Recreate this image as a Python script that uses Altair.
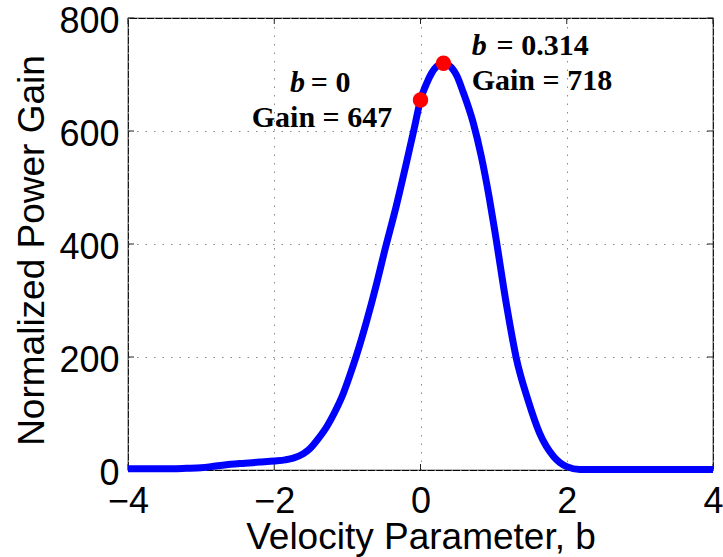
import altair as alt
import pandas as pd

# Curve values
b_vals = [-4.0, -3.5, -3.2, -3.0, -2.8, -2.6, -2.4, -2.2, -2.0, -1.85, -1.74, -1.6,
          -1.51, -1.4, -1.28, -1.17, -1.06, -0.97, -0.88, -0.74, -0.60, -0.49, -0.33,
          -0.19, -0.08, 0.0, 0.08, 0.15, 0.22, 0.314, 0.38, 0.45, 0.5, 0.58, 0.72, 0.83,
          0.94, 1.02, 1.18, 1.31, 1.47, 1.63, 1.82, 2.0, 2.18, 2.5, 3.0, 3.5, 4.0]
gain_vals = [2, 2, 3, 4, 7, 10, 12, 14, 16, 18, 21, 29,
             38, 55, 77, 103, 134, 166, 201, 262, 330, 388, 468,
             545, 608, 655, 683, 702, 714, 720, 717, 708, 697, 670, 615, 556,
             482, 420, 289, 198, 124, 65, 24, 6, 1, 1, 1, 1, 1]

# Highlighted points
pt_b = [0.0, 0.314]
pt_gain = [655, 720]

# Annotations
ann_text = ["b", "= 0", "Gain = 647", "b", "= 0.314", "Gain = 718"]
ann_b = [-1.785, -1.50, -2.308, 0.70, 1.04, 0.70]
ann_g = [669.6, 669.6, 607.6, 734.5, 734.5, 672.6]
ann_italic = [True, False, False, True, False, False]

x_ticks = [-4, -2, 0, 2, 4]
y_ticks = [0, 200, 400, 600, 800]

curve = pd.DataFrame({"b": b_vals, "gain": gain_vals})
pts = pd.DataFrame({"b": pt_b, "gain": pt_gain})
ann = pd.DataFrame({"text": ann_text, "b": ann_b, "gain": ann_g, "italic": ann_italic})
xt = pd.DataFrame({"b": x_ticks})
yt = pd.DataFrame({"gain": y_ticks})

xscale = alt.Scale(domain=[-4, 4], nice=False, zero=False)
yscale = alt.Scale(domain=[0, 800], nice=False)

X = alt.X("b:Q", scale=xscale,
          axis=alt.Axis(values=x_ticks, format="d", title="Velocity Parameter, b",
                        grid=True, gridDash=[1.5, 7], gridColor="#8a8a8a", gridWidth=1,
                        ticks=False, domain=False, labelFontSize=36,
                        labelFont="Liberation Sans", labelPadding=14,
                        labelFlush=False, labelOverlap=False, labelColor="black",
                        titleFontSize=37, titleFont="Liberation Sans",
                        titleFontWeight="normal", titleColor="black",
                        titleBaseline="alphabetic", titleY=78))
Y = alt.Y("gain:Q", scale=yscale,
          axis=alt.Axis(values=y_ticks, format="d", title="Normalized Power Gain",
                        grid=True, gridDash=[1.5, 7], gridColor="#8a8a8a", gridWidth=1,
                        ticks=False, domain=False, labelFontSize=36,
                        labelFont="Liberation Sans", labelPadding=9,
                        labelOverlap=False, labelColor="black", labelOffset=3,
                        titleFontSize=37, titleFont="Liberation Sans",
                        titleFontWeight="normal", titleColor="black",
                        titleAngle=-90, titleAlign="center",
                        titleBaseline="alphabetic", titleX=-85, titleY=232))

line = alt.Chart(curve).mark_line(color="#0000ff", strokeWidth=7,
                                  interpolate="monotone").encode(x=X, y=Y)

dots = alt.Chart(pts).mark_point(filled=True, color="#ff0000", size=240,
                                 opacity=1).encode(x="b:Q", y="gain:Q")

ann_it = alt.Chart(ann[ann["italic"]]).mark_text(
    font="Liberation Serif", fontSize=30, fontWeight="bold", fontStyle="italic",
    align="left", baseline="alphabetic", color="black"
).encode(x="b:Q", y="gain:Q", text="text:N")

ann_rm = alt.Chart(ann[~ann["italic"]]).mark_text(
    font="Liberation Serif", fontSize=30, fontWeight="bold",
    align="left", baseline="alphabetic", color="black"
).encode(x="b:Q", y="gain:Q", text="text:N")

# inward tick marks (MATLAB style)
tick_col = "#222222"
xt_bot = alt.Chart(xt).mark_rule(color=tick_col, strokeWidth=1).encode(
    x="b:Q", y=alt.value(452), y2=alt.value(446))
xt_top = alt.Chart(xt).mark_rule(color=tick_col, strokeWidth=1).encode(
    x="b:Q", y=alt.value(0), y2=alt.value(6))
yt_left = alt.Chart(yt).mark_rule(color=tick_col, strokeWidth=1).encode(
    y="gain:Q", x=alt.value(0), x2=alt.value(6))
yt_right = alt.Chart(yt).mark_rule(color=tick_col, strokeWidth=1).encode(
    y="gain:Q", x=alt.value(585), x2=alt.value(579))

chart = alt.layer(
    xt_bot, xt_top, yt_left, yt_right, line, dots, ann_it, ann_rm
).properties(
    width=585, height=452,
    autosize=alt.AutoSizeParams(type="none"),
    padding={"left": 128, "top": 18, "right": 10, "bottom": 87},
    background="white",
).configure_view(stroke="black", strokeWidth=1.2)

chart.save("out.html", embed_options={"renderer": "svg", "actions": False})
